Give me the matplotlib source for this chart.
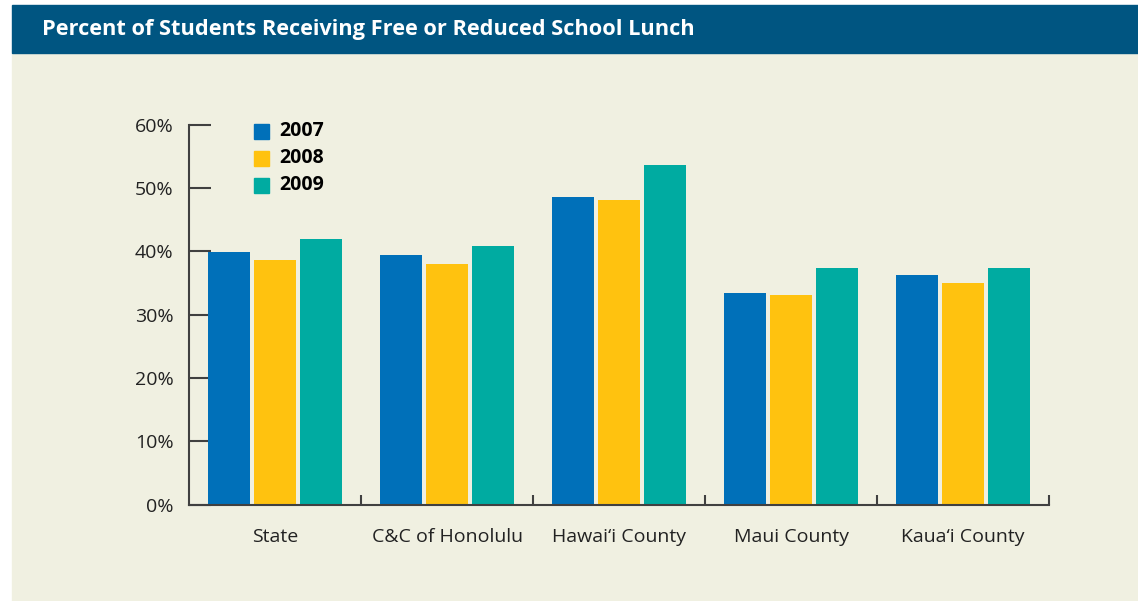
import matplotlib.pyplot as plt
import numpy as np
from matplotlib.patches import Rectangle

# free / reduced lunch share, percent
counties = ["State", "C&C of Honolulu", "Hawai\u2018i County", "Maui County", "Kaua\u2018i County"]
years = ["2007", "2008", "2009"]
pct_2007 = [39.9, 39.4, 48.6, 33.4, 36.3]
pct_2008 = [38.6, 38.0, 48.1, 33.1, 35.0]
pct_2009 = [42.0, 40.8, 53.6, 37.4, 37.4]
colors = ["#0070b9", "#ffc20f", "#00aba1"]

plt.rcParams['font.family'] = ['Open Sans', 'DejaVu Sans']

W, H = 1138, 601
fig = plt.figure(figsize=(W / 100, H / 100), dpi=100)

# background panels
fig.patches.append(Rectangle((12 / W, 0), 1 - 12 / W, (H - 52.7) / H,
                             transform=fig.transFigure, color="#f0f0e1", zorder=-10))
fig.patches.append(Rectangle((12 / W, (H - 52.7) / H), 1 - 12 / W, 47.7 / H,
                             transform=fig.transFigure, color="#005581", zorder=-10))
fig.text(42 / W, (H - 29) / H, "Percent of Students Receiving Free or Reduced School Lunch",
         color="white", fontsize=15.7, fontweight="bold", va="center", ha="left")

ax = fig.add_axes([189 / W, (H - 504.5) / H, 860 / W, (504.5 - 124.7) / H])
ax.patch.set_alpha(0)

x = np.arange(len(counties)) + 0.5
pitch = 46 / 172
bw = 42 / 172
for i, vals in enumerate([pct_2007, pct_2008, pct_2009]):
    ax.bar(x + (i - 1) * pitch, vals, width=bw, color=colors[i], zorder=2)

ax.set_xlim(0, 5)
ax.set_ylim(0, 60)
ax.set_yticks(np.arange(0, 61, 10))
ax.set_yticklabels([f"{v}%" for v in range(0, 61, 10)])
ax.set_xticks(x)
ax.set_xticklabels(counties)
ax.set_xticks(np.arange(1, 6), minor=True)

for s in ["top", "right"]:
    ax.spines[s].set_visible(False)
for s in ["left", "bottom"]:
    ax.spines[s].set_color("#404040")
    ax.spines[s].set_linewidth(1.5)

ax.tick_params(axis="y", direction="in", length=15.5, width=1.5, color="#404040",
               labelsize=14, labelcolor="#222222", pad=11)
ax.tick_params(axis="x", which="major", length=0, labelsize=14,
               labelcolor="#222222", pad=17)
ax.tick_params(axis="x", which="minor", direction="in", length=7, width=1.5,
               color="#404040")

# legend
for i, yr in enumerate(years):
    yc = 131 + i * 27
    fig.patches.append(Rectangle((254 / W, (H - yc - 7.5) / H), 15 / W, 15 / H,
                                 transform=fig.transFigure, color=colors[i], zorder=3))
    fig.text(279 / W, (H - yc) / H, yr, fontsize=14, fontweight="bold",
             color="black", va="center", ha="left")

fig.savefig("out.png", dpi=100)
